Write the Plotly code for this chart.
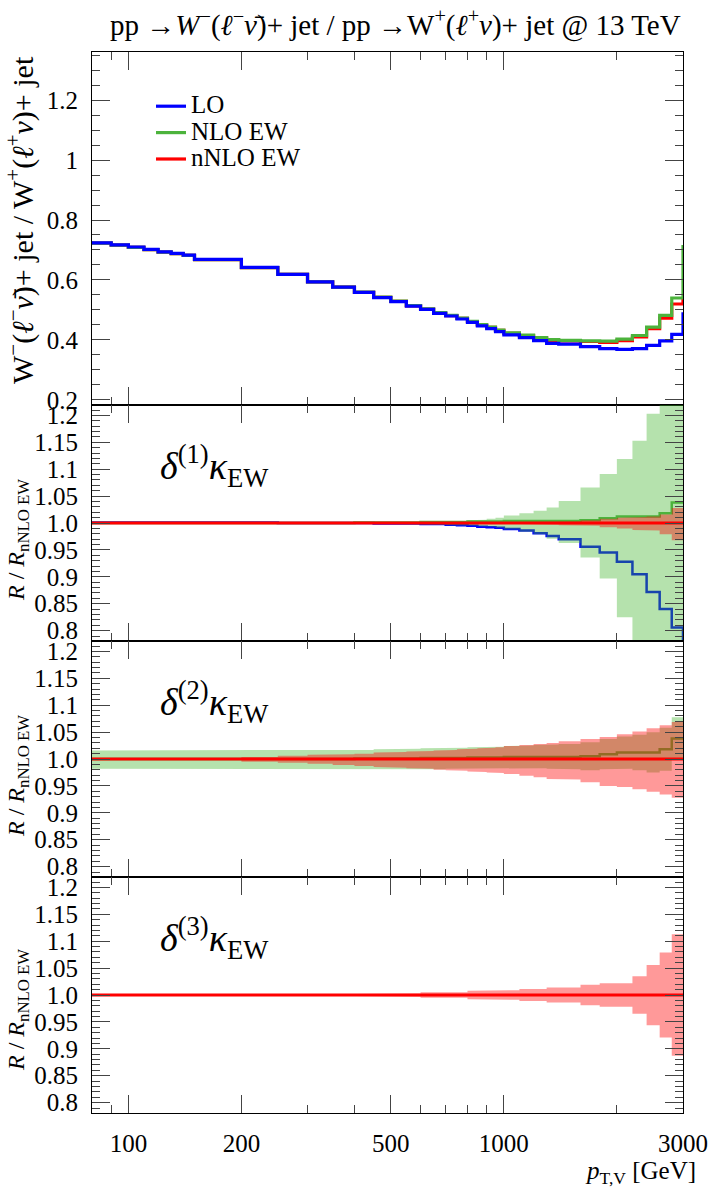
import plotly.graph_objects as go
from plotly.subplots import make_subplots

# ---------------- data ----------------
# bin edges in pT,V [GeV]; the last bin (3000-3200) is an overflow bin, clipped by the axis
edges = [80, 90, 100, 110, 120, 130, 140, 150, 200, 250, 300, 350, 400, 450, 500, 550, 600, 650,
         700, 750, 800, 850, 900, 950, 1000, 1100, 1200, 1300, 1400, 1600, 1800, 2000, 2200, 2400,
         2600, 2800, 3000, 3200]

# main panel: ratio W-/W+
lo_top = [0.724, 0.717, 0.710, 0.702, 0.694, 0.689, 0.683, 0.669,
          0.642, 0.619, 0.594, 0.576, 0.559, 0.541, 0.528, 0.513, 0.502, 0.489, 0.480, 0.470,
          0.459, 0.447, 0.438, 0.428,
          0.417, 0.408, 0.398, 0.389, 0.386,
          0.378, 0.371, 0.369, 0.371, 0.382, 0.397, 0.419,
          0.487]
nlo_top = [0.723, 0.716, 0.709, 0.701, 0.693, 0.688, 0.682, 0.668,
           0.641, 0.619, 0.594, 0.576, 0.560, 0.543, 0.530, 0.515, 0.504, 0.491, 0.482, 0.473,
           0.462, 0.451, 0.443, 0.433,
           0.424, 0.416, 0.408, 0.401, 0.399,
           0.397, 0.396, 0.403, 0.415, 0.443, 0.482, 0.540,
           0.711]
nnlo_top = [0.723, 0.716, 0.709, 0.701, 0.693, 0.688, 0.682, 0.668,
            0.641, 0.619, 0.594, 0.576, 0.559, 0.542, 0.529, 0.514, 0.503, 0.490, 0.481, 0.472,
            0.461, 0.450, 0.442, 0.432,
            0.422, 0.414, 0.406, 0.399, 0.397,
            0.395, 0.392, 0.398, 0.410, 0.438, 0.473, 0.520,
            0.533]

# ratio panels: R / R_nNLO EW
r_lo = [1.001, 1.001, 1.001, 1.001, 1.001, 1.001, 1.001, 1.001,
        1.001, 1.000, 1.000, 1.000, 1.000, 0.999, 0.999, 0.999, 0.998, 0.998, 0.997, 0.996,
        0.995, 0.993, 0.992, 0.991,
        0.989, 0.986, 0.981, 0.976, 0.970,
        0.956, 0.945, 0.928, 0.905, 0.872, 0.840, 0.806,
        0.750]
r_nlo = [1.000, 1.000, 1.000, 1.000, 1.000, 1.000, 1.000, 1.000,
         1.000, 1.000, 1.000, 1.000, 1.001, 1.001, 1.001, 1.001, 1.002, 1.002, 1.002, 1.002,
         1.003, 1.003, 1.003, 1.003,
         1.004, 1.004, 1.004, 1.004, 1.004,
         1.005, 1.009, 1.012, 1.012, 1.012, 1.018, 1.038,
         1.038]
r_nnlo = [1.0, 1.0, 1.0, 1.0, 1.0, 1.0, 1.0, 1.0,
          1.0, 1.0, 1.0, 1.0, 1.0, 1.0, 1.0, 1.0, 1.0, 1.0, 1.0, 1.0,
          1.0, 1.0, 1.0, 1.0,
          1.0, 1.0, 1.0, 1.0, 1.0,
          1.0, 1.0, 1.0, 1.0, 1.0, 1.0, 1.0,
          1.0]

# delta(1) kappa_EW bands
nlo_d1_hi = [1.001, 1.001, 1.001, 1.001, 1.001, 1.001, 1.001, 1.001,
             1.001, 1.001, 1.001, 1.001, 1.001, 1.001, 1.002, 1.002, 1.003, 1.003, 1.004, 1.004,
             1.005, 1.006, 1.008, 1.010,
             1.014, 1.018, 1.023, 1.029, 1.041,
             1.066, 1.091, 1.119, 1.153, 1.203, 1.260, 1.300,
             1.350]
nlo_d1_lo = [0.999, 0.999, 0.999, 0.999, 0.999, 0.999, 0.999, 0.999,
             0.999, 0.999, 0.999, 0.999, 0.999, 0.999, 0.998, 0.998, 0.997, 0.997, 0.996, 0.996,
             0.995, 0.994, 0.993, 0.991,
             0.988, 0.984, 0.979, 0.971, 0.963,
             0.936, 0.897, 0.825, 0.700, 0.600, 0.550, 0.500,
             0.450]
nnlo_d1_hi = [1.000, 1.000, 1.000, 1.000, 1.000, 1.000, 1.000, 1.000,
              1.000, 1.000, 1.000, 1.000, 1.000, 1.000, 1.000, 1.000, 1.000, 1.000, 1.000, 1.000,
              1.000, 1.000, 1.0005, 1.001,
              1.001, 1.002, 1.002, 1.003, 1.003,
              1.005, 1.008, 1.010, 1.011, 1.012, 1.016, 1.028,
              1.040]
nnlo_d1_lo = [1.000, 1.000, 1.000, 1.000, 1.000, 1.000, 1.000, 1.000,
              1.000, 1.000, 1.000, 1.000, 1.000, 1.000, 1.000, 1.000, 1.000, 1.000, 1.000, 1.000,
              1.000, 1.000, 0.9995, 0.999,
              0.999, 0.998, 0.998, 0.997, 0.996,
              0.995, 0.992, 0.990, 0.987, 0.986, 0.979, 0.968,
              0.950]

# delta(2) kappa_EW bands
nlo_d2_hi = [1.016, 1.016, 1.016, 1.016, 1.016, 1.016, 1.016, 1.016,
             1.016, 1.016, 1.016, 1.017, 1.017, 1.018, 1.019, 1.019, 1.020, 1.020, 1.021, 1.021,
             1.022, 1.022, 1.023, 1.023,
             1.024, 1.025, 1.026, 1.027, 1.028,
             1.031, 1.037, 1.042, 1.045, 1.050, 1.058, 1.0775,
             1.100]
nlo_d2_lo = [0.982, 0.982, 0.982, 0.982, 0.982, 0.982, 0.982, 0.982,
             0.982, 0.982, 0.982, 0.981, 0.981, 0.981, 0.981, 0.981, 0.981, 0.981, 0.982, 0.982,
             0.982, 0.982, 0.982, 0.982,
             0.982, 0.983, 0.983, 0.982, 0.981,
             0.979, 0.981, 0.982, 0.979, 0.975, 0.978, 0.998,
             1.000]
nnlo_d2_hi = [1.000, 1.000, 1.000, 1.000, 1.000, 1.000, 1.000, 1.000,
              1.004, 1.006, 1.008, 1.009, 1.010, 1.012, 1.013, 1.014, 1.015, 1.016, 1.017, 1.018,
              1.019, 1.020, 1.021, 1.022,
              1.024, 1.026, 1.028, 1.030, 1.033,
              1.037, 1.041, 1.046, 1.051, 1.057, 1.063, 1.069,
              1.080]
nnlo_d2_lo = [1.000, 1.000, 1.000, 1.000, 1.000, 1.000, 1.000, 1.000,
              0.995, 0.993, 0.991, 0.989, 0.987, 0.985, 0.984, 0.983, 0.982, 0.980, 0.979, 0.978,
              0.977, 0.976, 0.975, 0.974,
              0.972, 0.969, 0.966, 0.963, 0.962,
              0.957, 0.950, 0.948, 0.944, 0.939, 0.934, 0.928,
              0.920]

# delta(3) kappa_EW band
nnlo_d3_hi = [1.0005, 1.0005, 1.0005, 1.0005, 1.0005, 1.0005, 1.0005, 1.0005,
              1.0005, 1.001, 1.001, 1.001, 1.002, 1.002, 1.003, 1.003, 1.005, 1.005, 1.005, 1.005,
              1.008, 1.008, 1.008, 1.008,
              1.009, 1.011, 1.011, 1.014, 1.014,
              1.019, 1.022, 1.022, 1.035, 1.056, 1.079, 1.113,
              1.150]
nnlo_d3_lo = [0.9995, 0.9995, 0.9995, 0.9995, 0.9995, 0.9995, 0.9995, 0.9995,
              0.9995, 0.999, 0.999, 0.999, 0.998, 0.998, 0.997, 0.997, 0.995, 0.995, 0.995, 0.995,
              0.992, 0.992, 0.992, 0.992,
              0.991, 0.989, 0.989, 0.986, 0.986,
              0.981, 0.978, 0.978, 0.965, 0.944, 0.921, 0.887,
              0.850]

x_tickvals = [100, 200, 500, 1000, 3000]
x_ticktext = ["100", "200", "500", "1000", "3000"]
x_minor = [90, 300, 400, 600, 700, 800, 900, 2000]
top_tickvals = [0.2, 0.4, 0.6, 0.8, 1.0, 1.2]
top_ticktext = ["0.2", "0.4", "0.6", "0.8", "1", "1.2"]
ratio_tickvals = [0.8, 0.85, 0.9, 0.95, 1.0, 1.05, 1.1, 1.15, 1.2]
ratio_ticktext = ["0.8", "0.85", "0.9", "0.95", "1.0", "1.05", "1.1", "1.15", "1.2"]

# ---------------- styles ----------------
FONT = "Liberation Serif"
C_LO = "#0000ff"
C_NLO = "#4cb33c"
C_NNLO = "#ff0000"
F_GREEN = "rgba(60,180,40,0.38)"
F_RED = "rgba(255,0,0,0.40)"

W, H = 712, 1187
ML, MR, MT, MB = 92, 29, 52, 74
PW = W - ML - MR
PH = H - MT - MB


def px_x(px):
    return (px - ML) / PW


def px_y(py):
    return (H - MB - py) / PH


def step_y(vals):
    return list(vals) + [vals[-1]]


def band_xy(lo, hi):
    xs, ys = [], []
    for i in range(len(hi)):
        xs += [edges[i], edges[i + 1]]
        ys += [hi[i], hi[i]]
    for i in reversed(range(len(lo))):
        xs += [edges[i + 1], edges[i]]
        ys += [lo[i], lo[i]]
    return xs, ys


fig = make_subplots(rows=4, cols=1, shared_xaxes=True, vertical_spacing=0,
                    row_heights=[353, 236, 236, 236])


def add_line(vals, color, width, row, name=None, show=False, rank=None):
    fig.add_trace(go.Scatter(x=edges, y=step_y(vals), mode="lines",
                             line=dict(color=color, width=width, shape="hv"),
                             name=name, showlegend=show, legendrank=rank if rank else 1000,
                             hoverinfo="skip"), row=row, col=1)


def add_band(lo, hi, color, row):
    xs, ys = band_xy(lo, hi)
    fig.add_trace(go.Scatter(x=xs, y=ys, mode="lines", fill="toself", fillcolor=color,
                             line=dict(width=0), showlegend=False, hoverinfo="skip"),
                  row=row, col=1)


def lg(txt):
    return f"<span style='font-size:25px'>{txt}</span>"


# top panel (red, green, then blue on top)
add_line(nnlo_top, C_NNLO, 3.2, 1, lg("nNLO EW"), True, 3)
add_line(nlo_top, C_NLO, 3.2, 1, lg("NLO EW"), True, 2)
add_line(lo_top, C_LO, 3.2, 1, lg("LO"), True, 1)

# panel 2: delta(1)
add_line(r_lo, C_LO, 2.5, 2)
add_band(nlo_d1_lo, nlo_d1_hi, F_GREEN, 2)
add_line(r_nlo, C_NLO, 2.5, 2)
add_band(nnlo_d1_lo, nnlo_d1_hi, F_RED, 2)
add_line(r_nnlo, C_NNLO, 3, 2)

# panel 3: delta(2)
add_band(nlo_d2_lo, nlo_d2_hi, F_GREEN, 3)
add_line(r_nlo, C_NLO, 2.5, 3)
add_band(nnlo_d2_lo, nnlo_d2_hi, F_RED, 3)
add_line(r_nnlo, C_NNLO, 3, 3)

# panel 4: delta(3)
add_band(nnlo_d3_lo, nnlo_d3_hi, F_RED, 4)
add_line(r_nnlo, C_NNLO, 3, 4)

TICKC = "#444444"
for r in range(1, 5):
    fig.update_xaxes(type="log", range=[1.90309, 3.47712], automargin=False,
                     showline=True, linecolor="black", linewidth=1, mirror="ticks",
                     ticks="inside", ticklen=18, tickwidth=1, tickcolor=TICKC,
                     tickvals=x_tickvals, ticktext=x_ticktext,
                     minor=dict(tickmode="array", tickvals=x_minor, ticks="inside",
                                ticklen=8, tickwidth=1, tickcolor=TICKC, showgrid=False),
                     showgrid=False, zeroline=False,
                     showticklabels=(r == 4),
                     tickfont=dict(family=FONT, size=25, color="black"),
                     ticklabelstandoff=8,
                     row=r, col=1)

fig.update_yaxes(range=[0.1833, 1.36], tickvals=top_tickvals, ticktext=top_ticktext,
                 minor=dict(dtick=0.05, tick0=0.2, ticks="inside", ticklen=8, tickwidth=1,
                            tickcolor=TICKC, showgrid=False),
                 row=1, col=1)
for r in range(2, 5):
    fig.update_yaxes(range=[0.7807, 1.2194], tickvals=ratio_tickvals, ticktext=ratio_ticktext,
                     minor=dict(dtick=0.01, tick0=0.8, ticks="inside", ticklen=8, tickwidth=1,
                                tickcolor=TICKC, showgrid=False),
                     row=r, col=1)
fig.update_yaxes(showline=True, linecolor="black", linewidth=1, mirror="ticks", automargin=False,
                 ticks="inside", ticklen=18, tickwidth=1, tickcolor=TICKC,
                 showgrid=False, zeroline=False,
                 tickfont=dict(family=FONT, size=25, color="black"),
                 ticklabelstandoff=8)

# exact panel domains
doms = [(px_y(405), 1.0), (px_y(641), px_y(405)), (px_y(877), px_y(641)), (0.0, px_y(877))]
for i, d in enumerate(doms):
    fig.layout["yaxis" + ("" if i == 0 else str(i + 1))].domain = d

ann = []
ann.append(dict(text="pp →<i>W</i><sup>−</sup>(<i>ℓ</i><sup>−</sup><i>ν̄</i>)+ jet / pp →W<sup>+</sup>(<i>ℓ</i><sup>+</sup><i>ν</i>)+ jet @ 13 TeV",
                x=px_x(396), y=px_y(23), xanchor="center", yanchor="middle",
                font=dict(family=FONT, size=29, color="black")))
ann.append(dict(text="W<sup>−</sup>(<i>ℓ</i><sup>−</sup><i>ν̄</i>)+ jet / W<sup>+</sup>(<i>ℓ</i><sup>+</sup><i>ν</i>)+ jet",
                x=px_x(20), y=px_y(220), textangle=-90, xanchor="center", yanchor="middle",
                font=dict(family=FONT, size=30, color="black")))
for yc in (540, 776, 1010):
    ann.append(dict(text="<i>R</i> / <i>R</i><sub>nNLO EW</sub>",
                    x=px_x(18), y=px_y(yc), textangle=-90, xanchor="center", yanchor="middle",
                    font=dict(family=FONT, size=24, color="black")))
for k, yc in zip((1, 2, 3), (466, 702, 938)):
    ann.append(dict(text=f"<i>δ</i><sup>({k})</sup><i>κ</i><sub>EW</sub>",
                    x=px_x(158), y=px_y(yc), xanchor="left", yanchor="middle",
                    font=dict(family=FONT, size=38, color="black")))
ann.append(dict(text="<i>p</i><sub>T,V</sub> [GeV]", x=px_x(698), y=px_y(1172),
                xanchor="right", yanchor="middle", font=dict(family=FONT, size=25, color="black")))
for a in ann:
    a.update(xref="paper", yref="paper", showarrow=False)

fig.update_layout(
    width=W, height=H,
    margin=dict(l=ML, r=MR, t=MT, b=MB, pad=0, autoexpand=False),
    paper_bgcolor="white", plot_bgcolor="white",
    font=dict(family=FONT, color="black"),
    annotations=ann,
    legend=dict(x=px_x(151), y=px_y(88), xanchor="left", yanchor="top",
                bgcolor="rgba(0,0,0,0)", borderwidth=0, traceorder="normal",
                font=dict(family=FONT, size=18, color="black"),
                tracegroupgap=0),
    showlegend=True,
)

fig.write_html("out.html")
